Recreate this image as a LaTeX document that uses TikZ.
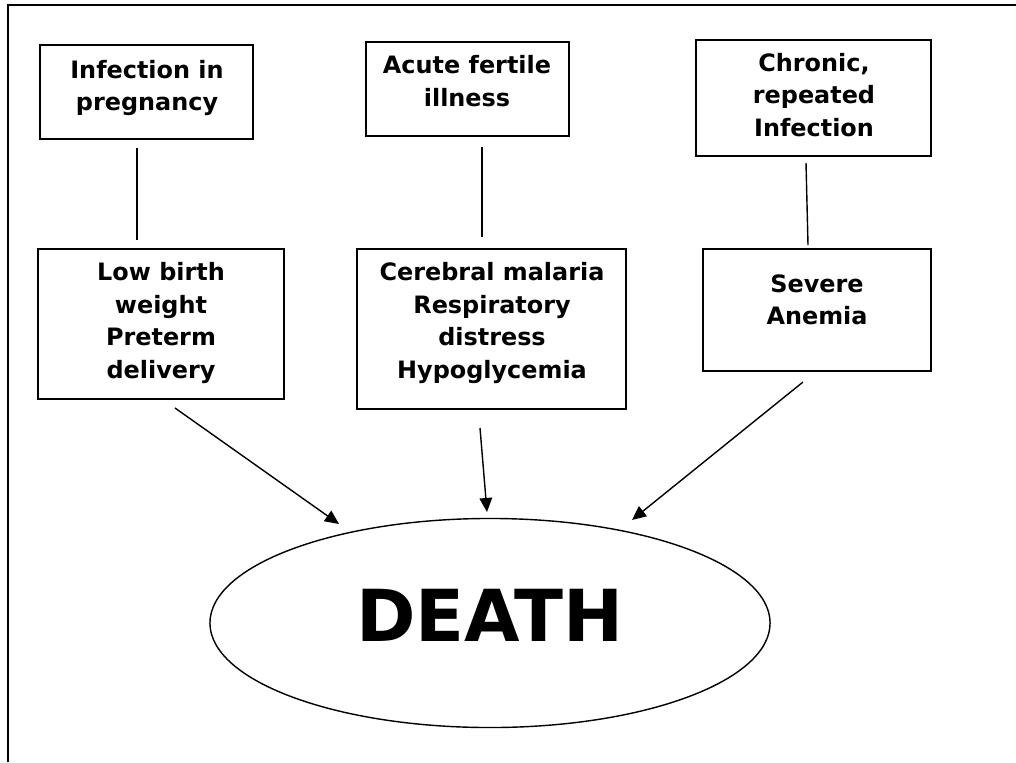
\documentclass[tikz,border=0pt]{standalone}
\usepackage{fontspec}
\setmainfont{DejaVu Sans}
\usetikzlibrary{shapes, arrows.meta}

\begin{document}
\begin{tikzpicture}[x=0.025cm, y=-0.025cm, > = {Stealth[length=10pt, width=9pt, inset=0pt]},
		box/.style={draw, line width=1.3pt, inner sep=0pt},
		lbl/.style={align=center, inner sep=0pt, font=\fontsize{17}{23}\selectfont\bfseries},
		link/.style={line width=1pt}]
			\useasboundingbox (0,0) rectangle (1016,762);
			% marco
			\draw [line width=1.3pt] (8,762) -- (8,5) -- (1016,5);
			
			% cajas de arriba
			\node [box, minimum width=5.325cm, minimum height=2.35cm] (inf) at (146.5,92) {};
			\node [lbl] (inftxt) at (147,88) {Infection in\\pregnancy};
			\node [box, minimum width=5.075cm, minimum height=2.35cm] (acute) at (467.5,89) {};
			\node [lbl] (acutetxt) at (467,81) {Acute fertile\\illness};
			\node [box, minimum width=5.875cm, minimum height=2.9cm] (chron) at (813.5,98) {};
			\node [lbl] (chrontxt) at (814,95) {Chronic,\\repeated\\Infection};
			
			% cajas de abajo
			\node [box, minimum width=6.15cm, minimum height=3.75cm] (lbw) at (161,324) {};
			\node [lbl] (lbwtxt) at (161,323) {Low birth\\weight\\Preterm\\delivery};
			\node [box, minimum width=6.725cm, minimum height=4cm] (cereb) at (491.5,329) {};
			\node [lbl] (cerebtxt) at (492,323) {Cerebral malaria\\Respiratory\\distress\\Hypoglycemia};
			\node [box, minimum width=5.7cm, minimum height=3.05cm] (anem) at (817,310) {};
			\node [lbl] (anemtxt) at (817,300) {Severe\\Anemia};
			
			% muerte
			\node [draw, ellipse, line width=1pt, inner sep=0pt, minimum width=14cm, minimum height=5.225cm] (death) at (490,623) {};
			\node [inner sep=0pt, font=\fontsize{51}{60}\selectfont\bfseries] (deathtxt) at (490,615) {DEATH};
			
			% puntos de union
			\coordinate (inf-s) at (137,148);   \coordinate (lbw-n) at (137,240);
			\coordinate (acute-s) at (482,147); \coordinate (cereb-n) at (482,237);
			\coordinate (chron-s) at (806,163); \coordinate (anem-n) at (808,245);
			\coordinate (lbw-s) at (175,408);   \coordinate (death-l) at (339,524);
			\coordinate (cereb-s) at (480,428); \coordinate (death-c) at (487,512);
			\coordinate (anem-s) at (803,382);  \coordinate (death-r) at (632,520);
			
			\draw [link] (inf-s) -- (lbw-n);
			\draw [link] (acute-s) -- (cereb-n);
			\draw [link] (chron-s) -- (anem-n);
			% flechas
			\draw [link, ->] (lbw-s) -- (death-l);
			\draw [link, ->] (cereb-s) -- (death-c);
			\draw [link, ->] (anem-s) -- (death-r);
		\end{tikzpicture}
\end{document}
